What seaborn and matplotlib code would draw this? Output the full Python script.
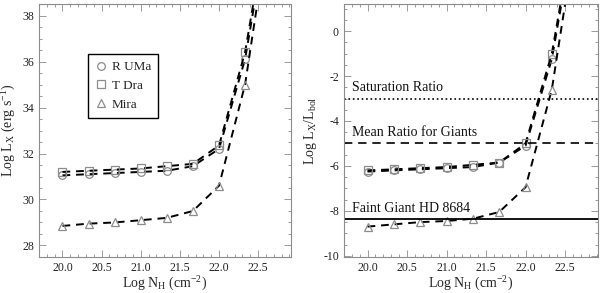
import matplotlib
matplotlib.use("Agg")
import matplotlib.pyplot as plt
import seaborn as sns
import numpy as np
import pandas as pd
from matplotlib.lines import Line2D
from matplotlib.ticker import MultipleLocator

# ---- data ----
log_nh = [20.0, 20.333, 20.667, 21.0, 21.333, 21.667, 22.0, 22.333, 22.667]
series = ["R UMa", "T Dra", "Mira"]
lx_rUMa = [31.05, 31.1, 31.15, 31.2, 31.25, 31.45, 32.2, 36.1, 42.8]
lx_tDra = [31.2, 31.25, 31.3, 31.35, 31.45, 31.55, 32.35, 36.4, 43.1]
lx_mira = [28.85, 28.95, 29.0, 29.1, 29.2, 29.5, 30.6, 35.0, 42.5]
ratio_rUMa = [-6.25, -6.2, -6.15, -6.1, -6.05, -5.85, -5.1, -1.25, 5.5]
ratio_tDra = [-6.2, -6.15, -6.1, -6.05, -5.95, -5.85, -5.0, -1.0, 5.7]
ratio_mira = [-8.7, -8.6, -8.5, -8.45, -8.35, -8.05, -6.95, -2.6, 4.95]
ref_levels = [-3.0, -5.0, -8.35]
ref_labels = ["Saturation Ratio", "Mean Ratio for Giants", "Faint Giant HD 8684"]
ref_styles = [":", "--", "-"]

sns.set_style("ticks")
plt.rcParams["font.family"] = ["Liberation Serif", "DejaVu Serif"]
plt.rcParams["mathtext.default"] = "regular"
plt.rcParams["axes.unicode_minus"] = False

markers = {"R UMa": "o", "T Dra": "s", "Mira": "^"}
left_vals = {"R UMa": lx_rUMa, "T Dra": lx_tDra, "Mira": lx_mira}
right_vals = {"R UMa": ratio_rUMa, "T Dra": ratio_tDra, "Mira": ratio_mira}

fig = plt.figure(figsize=(6.0, 2.93), dpi=100)
axL = fig.add_axes([0.065, 0.123, 0.42, 0.863])
axR = fig.add_axes([0.573, 0.123, 0.424, 0.863])

grey = "#8c8c8c"

def draw(ax, vals):
    for name in series:
        df = pd.DataFrame({"x": log_nh, "y": vals[name]})
        sns.lineplot(data=df, x="x", y="y", ax=ax, color="black",
                     linestyle=(0, (4, 3)), linewidth=1.4, marker=markers[name],
                     markersize=5.5 if name != "T Dra" else 6,
                     markerfacecolor="none", markeredgecolor=grey,
                     markeredgewidth=0.9, sort=False, estimator=None)

draw(axL, left_vals)
draw(axR, right_vals)

for lvl, lab, ls in zip(ref_levels, ref_labels, ref_styles):
    lw = 1.2 if ls != "-" else 1.3
    axR.axhline(lvl, color="black", linestyle=ls if ls != "--" else (0, (5, 3.5)), linewidth=lw)
    axR.text(19.8, lvl + 0.18, lab, fontsize=10, ha="left", va="bottom", color="#111111")

axL.set_xlim(19.7, 22.92)
axL.set_ylim(27.5, 38.5)
axR.set_xlim(19.7, 22.92)
axR.set_ylim(-10.05, 1.2)

for ax in (axL, axR):
    ax.xaxis.set_major_locator(MultipleLocator(0.5))
    ax.xaxis.set_minor_locator(MultipleLocator(0.1))
    ax.yaxis.set_major_locator(MultipleLocator(2))
    ax.yaxis.set_minor_locator(MultipleLocator(0.5))
    ax.tick_params(which="both", direction="in", top=True, right=True,
                   color=grey, labelsize=8.5, labelcolor="#222222", width=0.6)
    ax.tick_params(which="major", length=5)
    ax.tick_params(which="minor", length=2.5)
    for sp in ax.spines.values():
        sp.set_color(grey)
        sp.set_linewidth(0.8)
    ax.xaxis.set_major_formatter(matplotlib.ticker.FormatStrFormatter("%.1f"))
    ax.set_xlabel("Log N$_H$ (cm$^{-2}$)", fontsize=10, labelpad=1)

axL.set_ylabel("Log L$_X$ (erg s$^{-1}$)", fontsize=10, labelpad=3)
axR.set_ylabel("Log L$_X$/L$_{bol}$", fontsize=10, labelpad=3)
axL.yaxis.set_major_formatter(matplotlib.ticker.FormatStrFormatter("%d"))
axR.yaxis.set_major_formatter(matplotlib.ticker.FormatStrFormatter("%d"))

handles = [Line2D([], [], linestyle="none", marker=markers[n], markersize=5.5,
                  markerfacecolor="none", markeredgecolor=grey, markeredgewidth=0.9)
           for n in series]
leg = axL.legend(handles, series, loc="upper left", bbox_to_anchor=(0.17, 0.83),
                 frameon=True, fancybox=False, framealpha=1, edgecolor="black",
                 fontsize=9.5, handlelength=0.8, handletextpad=0.4,
                 labelspacing=0.5, borderpad=0.55)
leg.get_frame().set_linewidth(1.0)

fig.savefig("out.png", dpi=100)
